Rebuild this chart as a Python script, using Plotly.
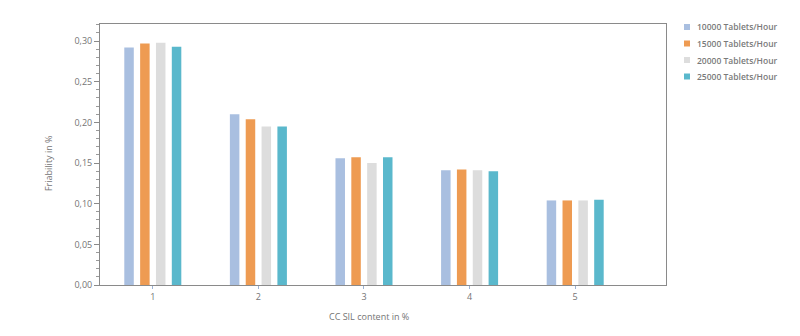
import plotly.graph_objects as go

# CC SIL content (%) on the x axis
content = [1, 2, 3, 4, 5]

# Friability (%) per tableting speed
speed_names = ["10000 Tablets/Hour", "15000 Tablets/Hour", "20000 Tablets/Hour", "25000 Tablets/Hour"]
fri_10000 = [0.292, 0.210, 0.156, 0.141, 0.104]
fri_15000 = [0.297, 0.204, 0.157, 0.142, 0.104]
fri_20000 = [0.298, 0.195, 0.150, 0.141, 0.104]
fri_25000 = [0.293, 0.195, 0.157, 0.140, 0.105]

y_ticks = [0.0, 0.05, 0.10, 0.15, 0.20, 0.25, 0.30]

colors = ["#a9bfe0", "#ee9b52", "#dddddd", "#5ab8cc"]
series = [fri_10000, fri_15000, fri_20000, fri_25000]

FONT = "Open Sans"
TXT = "#747474"

# plot area in pixels (used to place the compact legend key)
W, H = 800, 336
ML, MR, MT, MB = 100, 134, 24, 51
PW, PH = W - ML - MR, H - MT - MB


def px_x(px):
    return (px - ML) / PW


def px_y(py):
    return (H - MB - py) / PH


fig = go.Figure()
for name, vals, col in zip(speed_names, series, colors):
    fig.add_trace(go.Bar(x=content, y=vals, name=name, showlegend=False,
                         marker=dict(color=col, line=dict(width=0))))

# compact legend key: small colour square + label per series
shapes, annotations = [], []
for i, (name, col) in enumerate(zip(speed_names, colors)):
    cy = 27 + i * 16.5
    shapes.append(dict(type="rect", xref="paper", yref="paper",
                       x0=px_x(684), x1=px_x(690), y0=px_y(cy + 3), y1=px_y(cy - 3),
                       fillcolor=col, line=dict(width=0)))
    annotations.append(dict(text=name, xref="paper", yref="paper", x=px_x(695), y=px_y(cy),
                            xanchor="left", yanchor="middle", showarrow=False,
                            font=dict(family=FONT, size=8.5, color="#7a7a7a", weight=600)))

annotations += [
    dict(text="Friability in %", xref="paper", x=0, xshift=-52, yref="y", y=0.15,
         textangle=-90, showarrow=False, xanchor="center", yanchor="middle",
         font=dict(family=FONT, size=9, color=TXT)),
    dict(text="CC SIL content in %", xref="x", x=3.05, yref="paper", y=0, yshift=-31,
         showarrow=False, xanchor="center", yanchor="middle",
         font=dict(family=FONT, size=9, color=TXT)),
]

fig.update_layout(
    width=W, height=H,
    margin=dict(l=ML, r=MR, t=MT, b=MB, autoexpand=False),
    paper_bgcolor="white", plot_bgcolor="white",
    barmode="group", bargap=0.4, bargroupgap=0.4,
    separators=", ",
    font=dict(family=FONT, size=9, color=TXT),
    showlegend=False,
    xaxis=dict(
        range=[0.5, 5.86], tickvals=content, ticktext=[str(c) for c in content],
        showgrid=False, zeroline=False,
        showline=True, linecolor="#8a8a8a", linewidth=1, mirror=True,
        ticks="outside", ticklen=3, tickcolor="#9bb3d6",
        tickfont=dict(family=FONT, size=9, color=TXT),
    ),
    yaxis=dict(
        range=[0, 0.321], tickvals=y_ticks, tickformat=".2f",
        showgrid=False, zeroline=False,
        showline=True, linecolor="#8a8a8a", linewidth=1, mirror=True,
        ticks="outside", ticklen=5, tickcolor="#8a8a8a",
        minor=dict(dtick=0.01, ticks="outside", ticklen=3, tickcolor="#9a9a9a", showgrid=False),
        tickfont=dict(family=FONT, size=9, color=TXT),
    ),
    shapes=shapes,
    annotations=annotations,
)

fig.write_html("out.html")
